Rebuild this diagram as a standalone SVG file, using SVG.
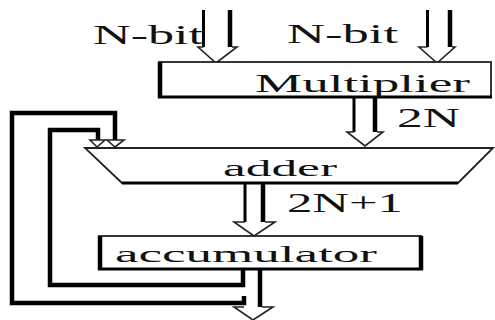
<svg xmlns="http://www.w3.org/2000/svg" width="495" height="320" viewBox="0 0 495 320">
<style>
.t{font-family:"Liberation Serif","Times New Roman",serif;fill:#111;}
.thick{fill:none;stroke:#000;stroke-width:4.5;stroke-linejoin:miter;}
.mid{fill:none;stroke:#000;stroke-width:3;}
.thin{fill:none;stroke:#222;stroke-width:1.6;stroke-linejoin:miter;}
.box{fill:#fff;stroke:#222;stroke-width:1.8;}
</style>
<rect width="495" height="320" fill="#fff"/>
<g id="connectors">
  <!-- left input hollow arrow -->
  <line class="mid" x1="203.5" y1="10" x2="203.5" y2="47"/>
  <line class="thick" x1="230" y1="10" x2="230" y2="47"/>
  <polyline class="thin" points="203.5,47 198,47 216,63 237,47 232,47"/>
  <!-- right input hollow arrow -->
  <line class="mid" x1="427.5" y1="10" x2="427.5" y2="47"/>
  <line class="thick" x1="450" y1="10" x2="450" y2="47"/>
  <polyline class="thin" points="427.5,47 419,47 437,63 455,47 452,47"/>
  <!-- multiplier to adder -->
  <line class="mid" x1="354" y1="98" x2="354" y2="132"/>
  <line class="thick" x1="375" y1="98" x2="375" y2="132"/>
  <polyline class="thin" points="354,132 347,132 365,146 383,132 377,132"/>
  <!-- adder to accumulator -->
  <line class="mid" x1="245" y1="183" x2="245" y2="222"/>
  <line class="thick" x1="263" y1="183" x2="263" y2="222"/>
  <polyline class="thin" points="245,222 234,222 254,236 275,222 265,222"/>
  <!-- output arrow -->
  <line class="thick" x1="260" y1="270" x2="260" y2="307"/>
  <polyline class="thin" points="244,307 234,307 253,320 273,307 262,307"/>
  <!-- inner feedback -->
  <polyline class="thick" points="243,270 243,285 50,285 50,130 98,130 98,140"/>
  <polygon class="thin" points="90,140 105,140 97,147" fill="#fff"/>
  <!-- outer feedback -->
  <polyline class="thick" points="244,296 244,303 12,303 12,113 115,113 115,140"/>
  <polygon class="thin" points="107,140 124,140 115,147" fill="#fff"/>
</g>
<g id="multiplier">
  <rect class="box" x="159" y="62" width="332" height="35"/>
  <line class="thick" x1="160" y1="62" x2="160" y2="98"/>
  <line class="mid" x1="158" y1="97" x2="492" y2="97"/>
  <text class="t" x="255" y="92" font-size="26" textLength="215" lengthAdjust="spacingAndGlyphs">Multiplier</text>
</g>
<g id="adder">
  <polygon points="85,148 493,148 458,183 122,183" fill="#fff" stroke="#222" stroke-width="1.8"/>
  <line class="mid" x1="122" y1="183" x2="458" y2="183"/>
  <text class="t" x="223" y="176" font-size="24" textLength="114" lengthAdjust="spacingAndGlyphs">adder</text>
</g>
<g id="accumulator">
  <rect class="box" x="99" y="236" width="322" height="33"/>
  <line class="thick" x1="100" y1="236" x2="100" y2="270"/>
  <line class="thick" x1="421" y1="236" x2="421" y2="270"/>
  <line class="mid" x1="98" y1="269" x2="423" y2="269"/>
  <text class="t" x="115" y="262" font-size="24" textLength="262" lengthAdjust="spacingAndGlyphs">accumulator</text>
</g>
<g id="labels">
  <text class="t" x="93" y="44" font-size="28" textLength="110" lengthAdjust="spacingAndGlyphs">N-bit</text>
  <text class="t" x="287" y="43" font-size="28" textLength="111" lengthAdjust="spacingAndGlyphs">N-bit</text>
  <text class="t" x="397" y="127" font-size="28" textLength="63" lengthAdjust="spacingAndGlyphs">2N</text>
  <text class="t" x="287" y="212" font-size="28" textLength="116" lengthAdjust="spacingAndGlyphs">2N+1</text>
</g>
</svg>
